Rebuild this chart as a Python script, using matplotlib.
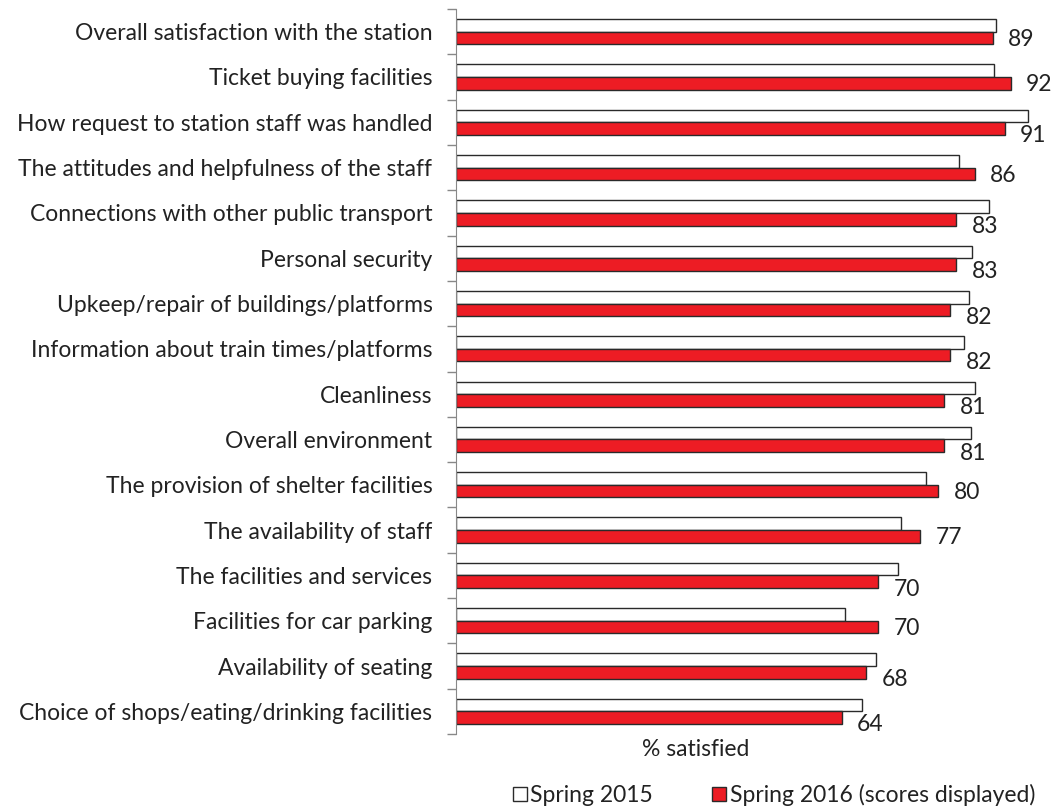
import matplotlib.pyplot as plt
import numpy as np

plt.rcParams['font.family'] = ['Lato', 'DejaVu Sans']

categories = [
    'Overall satisfaction with the station',
    'Ticket buying facilities',
    'How request to station staff was handled',
    'The attitudes and helpfulness of the staff',
    'Connections with other public transport',
    'Personal security',
    'Upkeep/repair of buildings/platforms',
    'Information about train times/platforms',
    'Cleanliness',
    'Overall environment',
    'The provision of shelter facilities',
    'The availability of staff',
    'The facilities and services',
    'Facilities for car parking',
    'Availability of seating',
    'Choice of shops/eating/drinking facilities',
]
spring_2015 = [89.6, 89.2, 94.9, 83.4, 88.4, 85.6, 85.0, 84.2,
               86.0, 85.4, 78.0, 73.8, 73.3, 64.5, 69.6, 67.3]
spring_2016 = [89, 92, 91, 86, 83, 83, 82, 82, 81, 81, 80, 77, 70, 70, 68, 64]

red = '#ED1C24'
txt = '#222222'
y = np.arange(len(categories))
h = 0.278

fig = plt.figure(figsize=(10.59, 8.10), dpi=100)
ax = fig.add_axes([456 / 1059, 1 - 734 / 810, 1 - 456 / 1059, (734 - 9) / 810])

b1 = ax.barh(y - h / 2, spring_2015, height=h, color='white',
             edgecolor='#2a2a2a', linewidth=1, label='Spring 2015')
b2 = ax.barh(y + h / 2, spring_2016, height=h, color=red,
             edgecolor='#2a2a2a', linewidth=1, label='Spring 2016 (scores displayed)')

# score labels: pushed a little lower where the 2015 bar sticks out past the 2016 one
for yi, v, w in zip(y, spring_2016, spring_2015):
    dy = 0.30 if w - v > 1 else 0.17
    ax.annotate(f'{v}', (v, yi + dy), xytext=(11, 0), textcoords='offset points',
                ha='left', va='center', fontsize=16.5, color=txt)

ax.set_xlim(0, 100)
ax.set_ylim(len(categories) - 0.5, -0.5)

ax.set_yticks(y)
ax.set_yticklabels(categories, fontsize=16.5, color=txt)
ax.tick_params(axis='y', which='major', length=0, pad=17)
ax.set_yticks(np.arange(len(categories) + 1) - 0.5, minor=True)
ax.tick_params(axis='y', which='minor', length=6.5, color='#888888', width=1)
ax.set_xticks([])

for s in ['top', 'right', 'bottom']:
    ax.spines[s].set_visible(False)
ax.spines['left'].set_color('#888888')

fig.text(696 / 1059, 1 - 750 / 810, '% satisfied', ha='center', va='center',
         fontsize=16.5, color=txt)

fig.legend(handles=[b1, b2], loc='center', bbox_to_anchor=(774 / 1059, 1 - 795 / 810),
           ncol=2, frameon=False, fontsize=16.5, handlelength=0.6, handleheight=0.6,
           handletextpad=0.15, columnspacing=2.6, labelcolor=txt)

plt.savefig('out.png', dpi=100)
